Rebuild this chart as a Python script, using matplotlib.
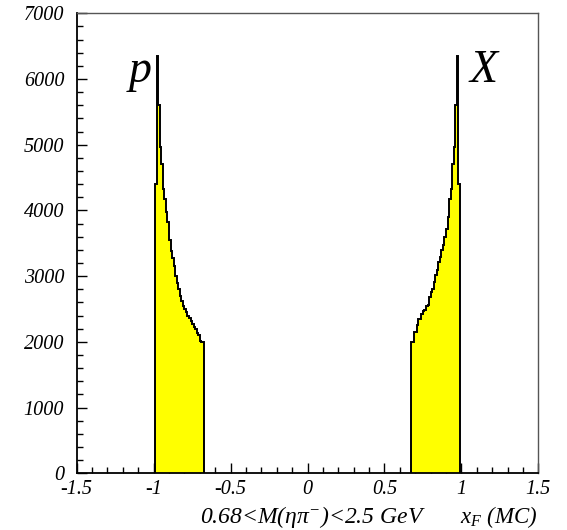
import numpy as np
import matplotlib
matplotlib.use("Agg")
import matplotlib.pyplot as plt
from matplotlib.ticker import MultipleLocator

plt.rcParams["font.family"] = ["Liberation Serif", "DejaVu Serif"]
plt.rcParams["font.style"] = "italic"
plt.rcParams["mathtext.fontset"] = "custom"
plt.rcParams["mathtext.it"] = "Liberation Serif:italic"
plt.rcParams["mathtext.rm"] = "Liberation Serif:italic"
plt.rcParams["mathtext.default"] = "it"

# Histogram binning (bin width 0.01 in x_F)
bin_width = 0.01
left_start = -0.99
right_start = 0.67

# Backward peak (proton side), bins from x_F = -0.99 upwards
left_counts = [4400, 6350, 5600, 4970, 4710, 4330, 4180, 3980, 3830, 3550,
               3380, 3270, 3150, 3000, 2900, 2800, 2700, 2620, 2550, 2500,
               2460, 2400, 2360, 2310, 2270, 2230, 2190, 2140, 2100, 2020,
               2000, 2000]

# Forward peak (X side), bins from x_F = 0.67 upwards
right_counts = [2000, 2000, 2150, 2150, 2250, 2350, 2350, 2430, 2470, 2480,
                2550, 2560, 2680, 2760, 2800, 2910, 3010, 3100, 3214, 3290,
                3400, 3467, 3600, 3721, 3900, 4180, 4330, 4710, 4970, 5600,
                6350, 4400]

x_ticks = [-1.5, -1, -0.5, 0, 0.5, 1, 1.5]
x_tick_labels = ["-1.5", "-1", "-0.5", "0", "0.5", "1", "1.5"]
y_ticks = [0, 1000, 2000, 3000, 4000, 5000, 6000, 7000]

left_edges = left_start + bin_width * np.arange(len(left_counts) + 1)
right_edges = right_start + bin_width * np.arange(len(right_counts) + 1)

fig = plt.figure(figsize=(5.67, 5.30), dpi=100)
ax = fig.add_axes([0.1353, 0.107, 0.8141, 0.868])

for edges, counts in ((left_edges, left_counts), (right_edges, right_counts)):
    ax.stairs(counts, edges, baseline=0, fill=True, color="#ffff00", zorder=2)
    ax.stairs(counts, edges, baseline=0, fill=False, color="black",
              linewidth=1.4, zorder=3)

ax.set_xlim(-1.5, 1.5)
ax.set_ylim(0, 7000)

ax.set_xticks(x_ticks)
ax.set_xticklabels(x_tick_labels)
ax.set_yticks(y_ticks)
ax.xaxis.set_minor_locator(MultipleLocator(0.1))
ax.yaxis.set_minor_locator(MultipleLocator(200))

ax.tick_params(which="both", direction="in", top=False, right=False,
               labelsize=14.5, width=1.0, color="black")
ax.tick_params(which="major", length=7)
ax.tick_params(which="minor", length=4)
ax.tick_params(axis="y", pad=9)
ax.tick_params(axis="x", pad=5)

for side in ("left", "bottom"):
    ax.spines[side].set_linewidth(1.3)
    ax.spines[side].set_color("black")
for side in ("top", "right"):
    ax.spines[side].set_linewidth(1.0)
    ax.spines[side].set_color("#555555")

ax.text(-1.089, 5955, "p", fontsize=33, ha="center", va="baseline")
ax.text(1.144, 5955, "X", fontsize=33, ha="center", va="baseline")

fig.text(200 / 567, 1 - 523 / 530, "0.68<M(ηπ$^{-}$)<2.5 GeV",
         fontsize=17, ha="left", va="baseline")
fig.text(460 / 567, 1 - 523 / 530, r"$x_{F}$ (MC)",
         fontsize=16.5, ha="left", va="baseline")

fig.savefig("out.png", dpi=100)
